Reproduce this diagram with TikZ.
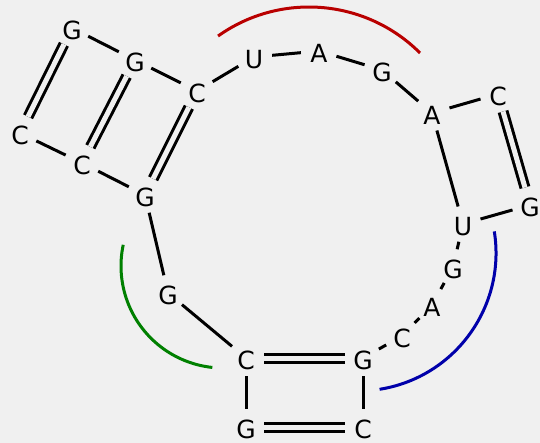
\documentclass[tikz,border=0pt]{standalone}
\usepackage{fontspec}
\setmainfont{DejaVu Sans}
\definecolor{bg}{HTML}{F0F0F0}
\definecolor{arcred}{RGB}{185,0,0}
\definecolor{arcgreen}{RGB}{0,128,0}
\definecolor{arcblue}{RGB}{0,0,170}
\begin{document}
\begin{tikzpicture}[x=1pt,y=-1pt,
  nt/.style={circle, minimum size=36pt, inner sep=0pt,
    font=\fontsize{25}{25}\selectfont, text height=22.2pt, text depth=0pt},
  bb/.style={line width=3pt},
  bp/.style={line width=3pt, double=bg, double distance=5pt},
  hl/.style={line width=3pt}]
\fill[bg] (0,0) rectangle (540,443);
\useasboundingbox (0,0) rectangle (540,443);
% nucleotides
\node[nt] (n1)  at (72,28)   {G};
\node[nt] (n2)  at (135,60)  {G};
\node[nt] (n3)  at (197,91)  {C};
\node[nt] (n4)  at (254,57)  {U};
\node[nt] (n5)  at (319,51)  {A};
\node[nt] (n6)  at (382,70)  {G};
\node[nt] (n7)  at (432,113) {A};
\node[nt] (n8)  at (498,94)  {C};
\node[nt] (n9)  at (530,205) {G};
\node[nt] (n10) at (463,224) {U};
\node[nt] (n11) at (453,267) {G};
\node[nt] (n12) at (432,305) {A};
\node[nt] (n13) at (402,336) {C};
\node[nt] (n14) at (363,358) {G};
\node[nt] (n15) at (363,427) {C};
\node[nt] (n16) at (246,427) {G};
\node[nt] (n17) at (246,358) {C};
\node[nt] (n18) at (168,293) {G};
\node[nt] (n19) at (145,195) {G};
\node[nt] (n20) at (82,163)  {C};
\node[nt] (n21) at (20,133)  {C};
% backbone
\draw[bb] (n1) -- (n2);
\draw[bb] (n2) -- (n3);
\draw[bb] (n3) -- (n4);
\draw[bb] (n4) -- (n5);
\draw[bb] (n5) -- (n6);
\draw[bb] (n6) -- (n7);
\draw[bb] (n7) -- (n8);
\draw[bb] (n7) -- (n10);
\draw[bb] (n10) -- (n9);
\draw[bb] (n10) -- (n11);
\draw[bb] (n11) -- (n12);
\draw[bb] (n12) -- (n13);
\draw[bb] (n13) -- (n14);
\draw[bb] (n14) -- (n15);
\draw[bb] (n17) -- (n16);
\draw[bb] (n18) -- (n17);
\draw[bb] (n19) -- (n18);
\draw[bb] (n20) -- (n19);
\draw[bb] (n21) -- (n20);
% pairs
\draw[bp] (n1) -- (n21);
\draw[bp] (n2) -- (n20);
\draw[bp] (n3) -- (n19);
\draw[bp] (n8) -- (n9);
\draw[bp] (n17) -- (n14);
\draw[bp] (n16) -- (n15);
% highlight arcs
\coordinate (cr) at (309,164);
\coordinate (cg) at (223,266);
\coordinate (cb) at (358,253);
\draw[hl, arcred] (cr) ++(-125.4:157) arc[start angle=-125.4, end angle=-45, radius=157];
\draw[hl, arcgreen] (cg) ++(-168:102) arc[start angle=-168, end angle=-264, radius=102];
\draw[hl, arcblue] (cb) ++(-9:138) arc[start angle=-9, end angle=81, radius=138];
\end{tikzpicture}
\end{document}
